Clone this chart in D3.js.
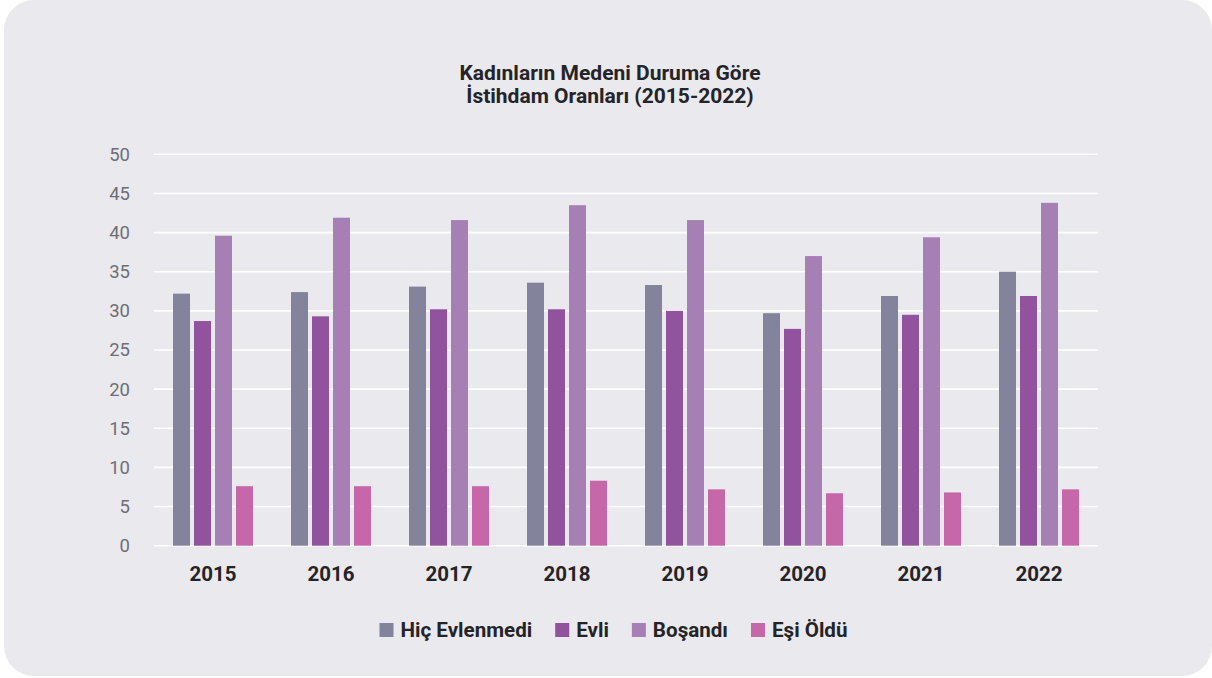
<!DOCTYPE html>
<html>
<head>
<meta charset="utf-8">
<script src="https://cdn.jsdelivr.net/npm/d3@7"></script>
<style>
  html, body { margin: 0; padding: 0; background: #ffffff; }
  svg { display: block; font-family: Roboto, "Noto Sans", sans-serif; }
</style>
</head>
<body>
<svg id="chart" width="1212" height="678"></svg>
<script>
const years = ["2015", "2016", "2017", "2018", "2019", "2020", "2021", "2022"];
const seriesNames = ["Hiç Evlenmedi", "Evli", "Boşandı", "Eşi Öldü"];
const hicEvlenmedi = [32.2, 32.4, 33.1, 33.6, 33.3, 29.7, 31.9, 35.0];
const evli = [28.7, 29.3, 30.2, 30.2, 30.0, 27.7, 29.5, 31.9];
const bosandi = [39.6, 41.9, 41.6, 43.5, 41.6, 37.0, 39.4, 43.8];
const esiOldu = [7.6, 7.6, 7.6, 8.3, 7.2, 6.7, 6.8, 7.2];
const yTicks = [0, 5, 10, 15, 20, 25, 30, 35, 40, 45, 50];
const colors = ["#83839c", "#91529e", "#a680b4", "#c567a8"];
const titleLines = ["Kadınların Medeni Duruma Göre", "İstihdam Oranları (2015-2022)"];

const seriesValues = [hicEvlenmedi, evli, bosandi, esiOldu];
const data = years.map((y, i) => ({ year: y, values: seriesValues.map(s => s[i]) }));

const svg = d3.select("#chart");

// card background
svg.append("rect")
  .attr("x", 4).attr("y", 0)
  .attr("width", 1208).attr("height", 676)
  .attr("rx", 30).attr("ry", 30)
  .attr("fill", "#eae9ee");

const plotLeft = 154, plotRight = 1098, plotTop = 154.3, plotBottom = 545.7;

const x0 = d3.scaleBand().domain(years).range([plotLeft, plotRight])
  .paddingInner(0.322).paddingOuter(0.161);
const x1 = d3.scaleBand().domain(d3.range(seriesNames.length))
  .range([0, x0.bandwidth()]).paddingInner(0.19);
const y = d3.scaleLinear().domain([0, 50]).range([plotBottom, plotTop]);

// grid
svg.append("g").selectAll("line").data(yTicks).join("line")
  .attr("x1", plotLeft).attr("x2", plotRight)
  .attr("y1", d => y(d)).attr("y2", d => y(d))
  .attr("stroke", "#ffffff").attr("stroke-width", 1.6);

// y axis labels
const yAxis = d3.axisLeft(y).tickValues(yTicks).tickSize(0).tickPadding(0);
const yg = svg.append("g").attr("transform", `translate(130,0)`).call(yAxis);
yg.select(".domain").remove();
yg.selectAll("text")
  .attr("font-family", "Roboto, sans-serif")
  .attr("font-size", 18.5)
  .attr("fill", "#6e6e76");

// bars
const groups = svg.append("g").selectAll("g").data(data).join("g")
  .attr("transform", d => `translate(${x0(d.year)},0)`);
groups.selectAll("rect").data(d => d.values.map((v, k) => ({ k, v }))).join("rect")
  .attr("x", d => x1(d.k))
  .attr("width", x1.bandwidth())
  .attr("y", d => y(d.v))
  .attr("height", d => y(0) - y(d.v))
  .attr("fill", d => colors[d.k]);

// x axis labels
const xAxis = d3.axisBottom(x0).tickSize(0).tickPadding(0);
const xg = svg.append("g").attr("transform", `translate(0,${plotBottom + 21})`).call(xAxis);
xg.select(".domain").remove();
xg.selectAll("text")
  .attr("font-family", "Roboto, sans-serif")
  .attr("font-size", 20.5)
  .attr("font-weight", "bold")
  .attr("fill", "#242428");

// title (one text, two lines)
const title = svg.append("text")
  .attr("x", 610)
  .attr("y", 80)
  .attr("text-anchor", "middle")
  .attr("font-size", 21)
  .attr("font-weight", "bold")
  .attr("fill", "#242428");
title.selectAll("tspan").data(titleLines).join("tspan")
  .attr("x", 610)
  .attr("dy", (d, i) => i === 0 ? 0 : 23)
  .text(d => d);

// legend
const legend = svg.append("g");
const items = legend.selectAll("g").data(seriesNames).join("g");
items.append("rect").attr("width", 14).attr("height", 14)
  .attr("y", -7).attr("fill", (d, i) => colors[i]);
items.append("text").attr("x", 21).attr("dy", "0.35em")
  .attr("font-size", 20.6)
  .attr("font-weight", "bold")
  .attr("fill", "#242428")
  .text(d => d);
let cx = 0;
const pos = [];
items.each(function() {
  pos.push(cx);
  cx += this.getBBox().width + 23;
});
const totalW = cx - 23;
const startX = 613.5 - totalW / 2;
items.attr("transform", (d, i) => `translate(${startX + pos[i]},630)`);
</script>
</body>
</html>
